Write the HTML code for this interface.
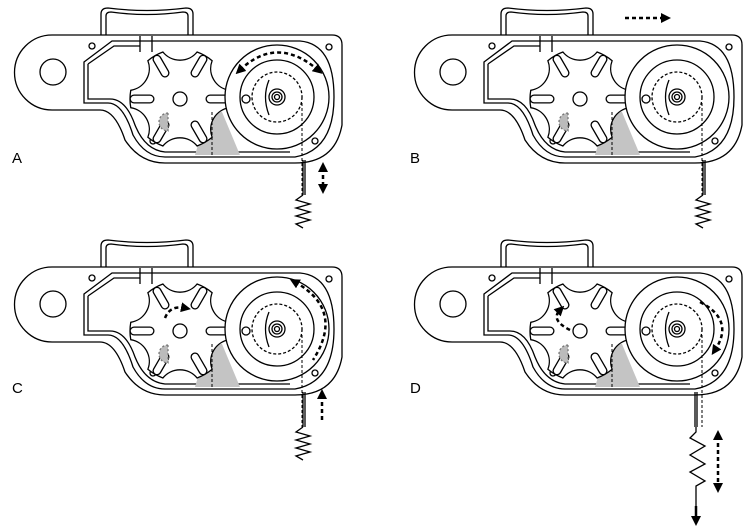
<!DOCTYPE html>
<html><head><meta charset="utf-8"><style>
html,body{margin:0;padding:0;background:#fff;width:750px;height:526px;overflow:hidden}
text{font-family:"Liberation Sans",sans-serif;font-size:15px}
</style></head><body>
<svg width="750" height="526" viewBox="0 0 750 526" xmlns="http://www.w3.org/2000/svg">
<defs>
<marker id="ah" markerUnits="userSpaceOnUse" markerWidth="10" markerHeight="10" refX="4" refY="5" orient="auto-start-reverse"><path d="M0,0 L10,5 L0,10 Z"/></marker>
<g id="slot"><path d="M30,0 L46,0" stroke="#000" stroke-width="9" stroke-linecap="round"/><path d="M30,0 L46,0" stroke="#fff" stroke-width="6.4" stroke-linecap="round"/></g>
<g id="mech" fill="none" stroke="#000" stroke-width="1.3">
  <path d="M101,36 V14 Q101,8 108,8 Q147,13 186,8 Q193,8 193,14 V36" />
  <path d="M106,36 V16 Q106,12 111,12 Q147,17 183,12 Q188,12 188,16 V36" />
  <path d="M52,35 H332 Q342,35 342,45 V125 Q335,163 295,163 H165 Q140,163 125,140 Q115,110 100,110 H52 A37.5,37.5 0 0 1 52,35 Z" fill="#fff"/>
  <circle cx="53" cy="72" r="13"/>
  <path d="M84,62 L112,41 H300 Q334,44 334,97 Q334,150 295,157 H165 Q145,157 133,135 Q123,103 108,103 H84 Z"/>
  <path d="M88,64 L114,46 H140 M88,64 V99 H110 Q126,99 135,125 Q145,150 165,152 H290"/>
  <path d="M140,36 V52 M152,36 V52"/>
  <circle cx="92" cy="46" r="3"/><circle cx="329" cy="47" r="3"/>
  <circle cx="153" cy="141" r="3"/><circle cx="315" cy="141" r="3"/>
  <path d="M208,112 L222,112 L240,155 H195 Z" fill="#c4c4c4" stroke="none"/>
  <g transform="translate(180,99)">
    <path fill="#fff" d="M49.24,-8.68 A50,50 0 0 1 49.24,8.68 A22,22 0 0 0 32.14,38.30 A50,50 0 0 1 17.10,46.98 A22,22 0 0 0 -17.10,46.98 A50,50 0 0 1 -32.14,38.30 A22,22 0 0 0 -49.24,8.68 A50,50 0 0 1 -49.24,-8.68 A22,22 0 0 0 -32.14,-38.30 A50,50 0 0 1 -17.10,-46.98 A22,22 0 0 0 17.10,-46.98 A50,50 0 0 1 32.14,-38.30 A22,22 0 0 0 49.24,-8.68 Z"/>
    <circle r="7" fill="#fff"/>
    <use href="#slot"/>
    <use href="#slot" transform="rotate(60)"/>
    <use href="#slot" transform="rotate(120)"/>
    <use href="#slot" transform="rotate(180)"/>
    <use href="#slot" transform="rotate(240)"/>
    <use href="#slot" transform="rotate(300)"/>
    <path d="M-12,14 A9,9 0 0 0 -12,32 Z" fill="#bbb" stroke="#777" stroke-dasharray="2,2"/>
    <path d="M32,13 V58" stroke-dasharray="3,2" stroke-width="1"/>
  </g>
  <circle cx="277" cy="97" r="52" fill="#fff"/>
  <circle cx="277" cy="97" r="37"/>
  <circle cx="277" cy="97" r="25" stroke-dasharray="3,2"/>
  <circle cx="277" cy="97" r="8"/><circle cx="277" cy="97" r="5"/><circle cx="277" cy="97" r="2.5"/>
  <path d="M269,80 Q262,97 269,115"/>
  <circle cx="246" cy="99" r="4" fill="#fff"/>
  <path d="M302,103 V195" stroke-dasharray="3,2" stroke-width="1"/>
</g>
<g id="rod" fill="none" stroke="#000" stroke-width="1.3">
  <path d="M303,160 V195 M305,160 V195"/>
  <path d="M303,195 L296,200 L310,204 L296,208 L310,212 L296,216 L310,220 L296,224 L303,228" />
</g>
</defs>
<use href="#mech"/><use href="#rod"/>
<use href="#mech" x="400"/><use href="#rod" x="400"/>
<use href="#mech" y="232"/><use href="#rod" y="232"/>
<use href="#mech" x="400" y="232"/>
<g fill="none" stroke="#000" stroke-width="1.3">
  <path d="M695,392 V427 M697,392 V427"/>
  <path d="M696,427 V432 L690,438 L705,446 L690,455 L705,464 L690,472 L705,481 L696,486 V506"/>
</g>
<path d="M696,506 V520" stroke="#000" stroke-width="2.5" marker-end="url(#ah)"/>
<g fill="none" stroke="#000" stroke-width="2.5" stroke-dasharray="4,3">
  <path d="M240,70 Q277,35 318,70" marker-start="url(#ah)" marker-end="url(#ah)"/>
  <path d="M323,168 V188" marker-start="url(#ah)" marker-end="url(#ah)"/>
  <path d="M625,18 H665" marker-end="url(#ah)"/>
  <path d="M322,420 V395" marker-end="url(#ah)"/>
  <path d="M295,282 Q345,310 313,360" marker-start="url(#ah)"/>
  <path d="M165,318 Q170,305 185,308" marker-end="url(#ah)"/>
  <path d="M700,302 Q735,320 715,350" marker-end="url(#ah)"/>
  <path d="M570,330 Q550,320 560,310" marker-end="url(#ah)"/>
  <path d="M718,436 V487" marker-start="url(#ah)" marker-end="url(#ah)"/>
</g>
<text x="12" y="163">A</text>
<text x="410" y="163">B</text>
<text x="12" y="393">C</text>
<text x="410" y="393">D</text>
</svg>
</body></html>
